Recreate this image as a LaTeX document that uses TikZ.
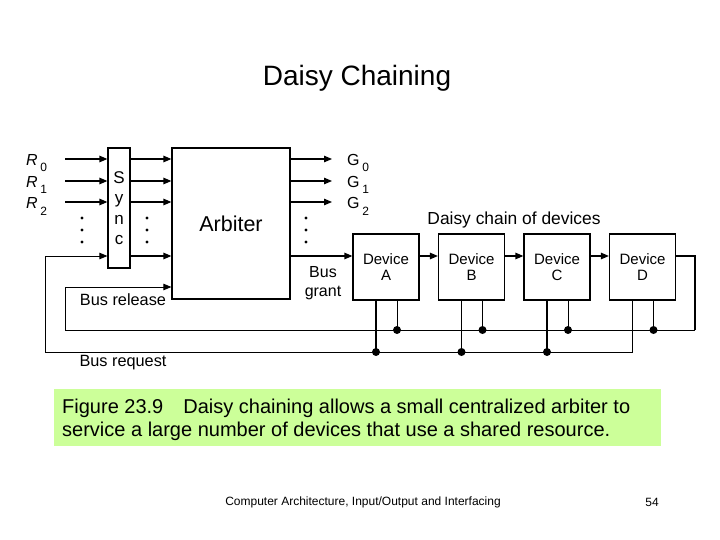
\documentclass[tikz,border=0pt]{standalone}
\usepackage{fontspec}
\setmainfont{Liberation Sans}
\usetikzlibrary{arrows.meta,calc}
\definecolor{captiongreen}{RGB}{204,255,153}
\newcommand{\junctionsize}{4}
\newcommand{\ellipsissize}{1.6}
\tikzset{
  unitbox/.style={draw, line width=1.2pt, inner sep=0pt},
  wire/.style={line width=1.2pt},
  buswire/.style={line width=0.9pt},
  sigarrow/.style={wire, -{Triangle[length=8pt,width=6.5pt]}},
  busarrow/.style={buswire, -{Triangle[length=8pt,width=6.5pt]}},
  sigtext/.style={inner sep=0pt, font=\fontsize{16}{19}\selectfont},
  portname/.style={inner sep=0pt, anchor=base west,
    font=\fontsize{16}{20}\selectfont}
}
\newcommand{\portsub}[1]{\,\raisebox{-6pt}{\fontsize{12}{14}\selectfont #1}}
\newcommand{\vellipsis}[1]{%
  \foreach \y in {218,230,242}{
    \fill (#1,\y) circle (\ellipsissize);
  }%
}

\begin{document}
\begin{tikzpicture}[x=1pt,y=-1pt]

  \def\W{720}
  \def\H{540}
  \fill[white] (0,0) rectangle (\W,\H);
  \path[use as bounding box] (0,0) rectangle (\W,\H);

  \node[inner sep=0pt, font=\fontsize{28}{32}\selectfont] (title)
    at (357,78) {Daisy Chaining};

  % Sync and Arbiter<<<
  \node[unitbox, minimum width=22pt, minimum height=120pt, align=center,
        font=\fontsize{17}{20.5}\selectfont] (sync)
    at (119,208) {S\\y\\n\\c};

  \node[unitbox, minimum width=118pt, minimum height=151pt,
        font=\fontsize{21.5}{24}\selectfont] (arb)
    at (231,223.5) {Arbiter};
  % >>>

  % Devices<<<
  \foreach \name/\cx in {A/386,B/471.5,C/557,D/642.5}{
    \node[unitbox, minimum size=66pt, align=center,
          font=\fontsize{15}{16}\selectfont] (dev\name)
      at (\cx,267) {Device\\\name};
  }
  \node[sigtext, font=\fontsize{17.4}{20}\selectfont] (chainname)
    at (514,220) {Daisy chain of devices};
  % >>>

  % Requests and grants<<<
  \foreach \y [count=\i from 0] in {159,181,202}{
    \coordinate (in\i) at (65,\y);
    \coordinate (out\i) at (332,\y);
    \draw[sigarrow] (in\i) -- (sync.west |- in\i);
    \draw[sigarrow] (sync.east |- in\i) -- (arb.west |- in\i);
    \draw[sigarrow] (arb.east |- out\i) -- (out\i);
    \node[portname] (rname\i) at (26,\y+7) {\textit{R}\portsub{\i}};
    \node[portname] (gname\i) at (347,\y+7) {G\portsub{\i}};
  }
  \vellipsis{82}
  \vellipsis{147}
  \vellipsis{306}

  \coordinate (grantrow) at (0,256);
  \coordinate (relin) at (0,287);
  \draw[sigarrow] (sync.east |- grantrow) -- (arb.west |- grantrow);
  \draw[sigarrow] (arb.east |- grantrow) -- (devA.west |- grantrow);
  \foreach \a/\b in {A/B,B/C,C/D}{
    \draw[sigarrow] (dev\a.east |- grantrow) -- (dev\b.west |- grantrow);
  }
  \node[sigtext, align=center] (grantname) at (323,283) {Bus\\grant};
  % >>>

  % Bus lines<<<
  \coordinate (relturn) at (695,330);
  \coordinate (relend) at (65,330);
  \coordinate (reqend) at (45,352);

  \draw[wire] (devD.east |- grantrow) -| (relturn);
  \draw[busarrow] (relturn) -- (relend) |- (arb.west |- relin);
  \draw[busarrow] ([xshift=-10pt]devD.south) |- (reqend)
    |- (sync.west |- grantrow);

  \foreach \name in {A,B,C,D}{
    \draw[buswire] ([xshift=11pt]dev\name.south)
      -- ([xshift=11pt]dev\name.south |- relend);
    \fill ([xshift=11pt]dev\name.south |- relend) circle (\junctionsize);
  }
  \foreach \name in {A,B,C}{
    \draw[wire] ([xshift=-10pt]dev\name.south)
      -- ([xshift=-10pt]dev\name.south |- reqend);
    \fill ([xshift=-10pt]dev\name.south |- reqend) circle (\junctionsize);
  }

  \node[sigtext, font=\fontsize{16.3}{19}\selectfont] (relname)
    at (123,300) {Bus release};
  \node[sigtext, font=\fontsize{16.3}{19}\selectfont] (reqname)
    at (123,363) {Bus request};
  % >>>

  % Caption and footer<<<
  \fill[captiongreen] (54,389) rectangle (661,446);
  \node[inner sep=0pt, anchor=north west, align=left,
        font=\fontsize{20}{23}\selectfont] (caption)
    at (62,399) {Figure 23.9\quad Daisy chaining allows a small centralized arbiter to\\
                 service a large number of devices that use a shared resource.};

  \node[inner sep=0pt, font=\fontsize{12}{14}\selectfont] (footer)
    at (363,502) {Computer Architecture, Input/Output and Interfacing};
  \node[inner sep=0pt, font=\fontsize{12}{14}\selectfont] (pageno)
    at (652,502) {54};
  % >>>

\end{tikzpicture}
\end{document}
